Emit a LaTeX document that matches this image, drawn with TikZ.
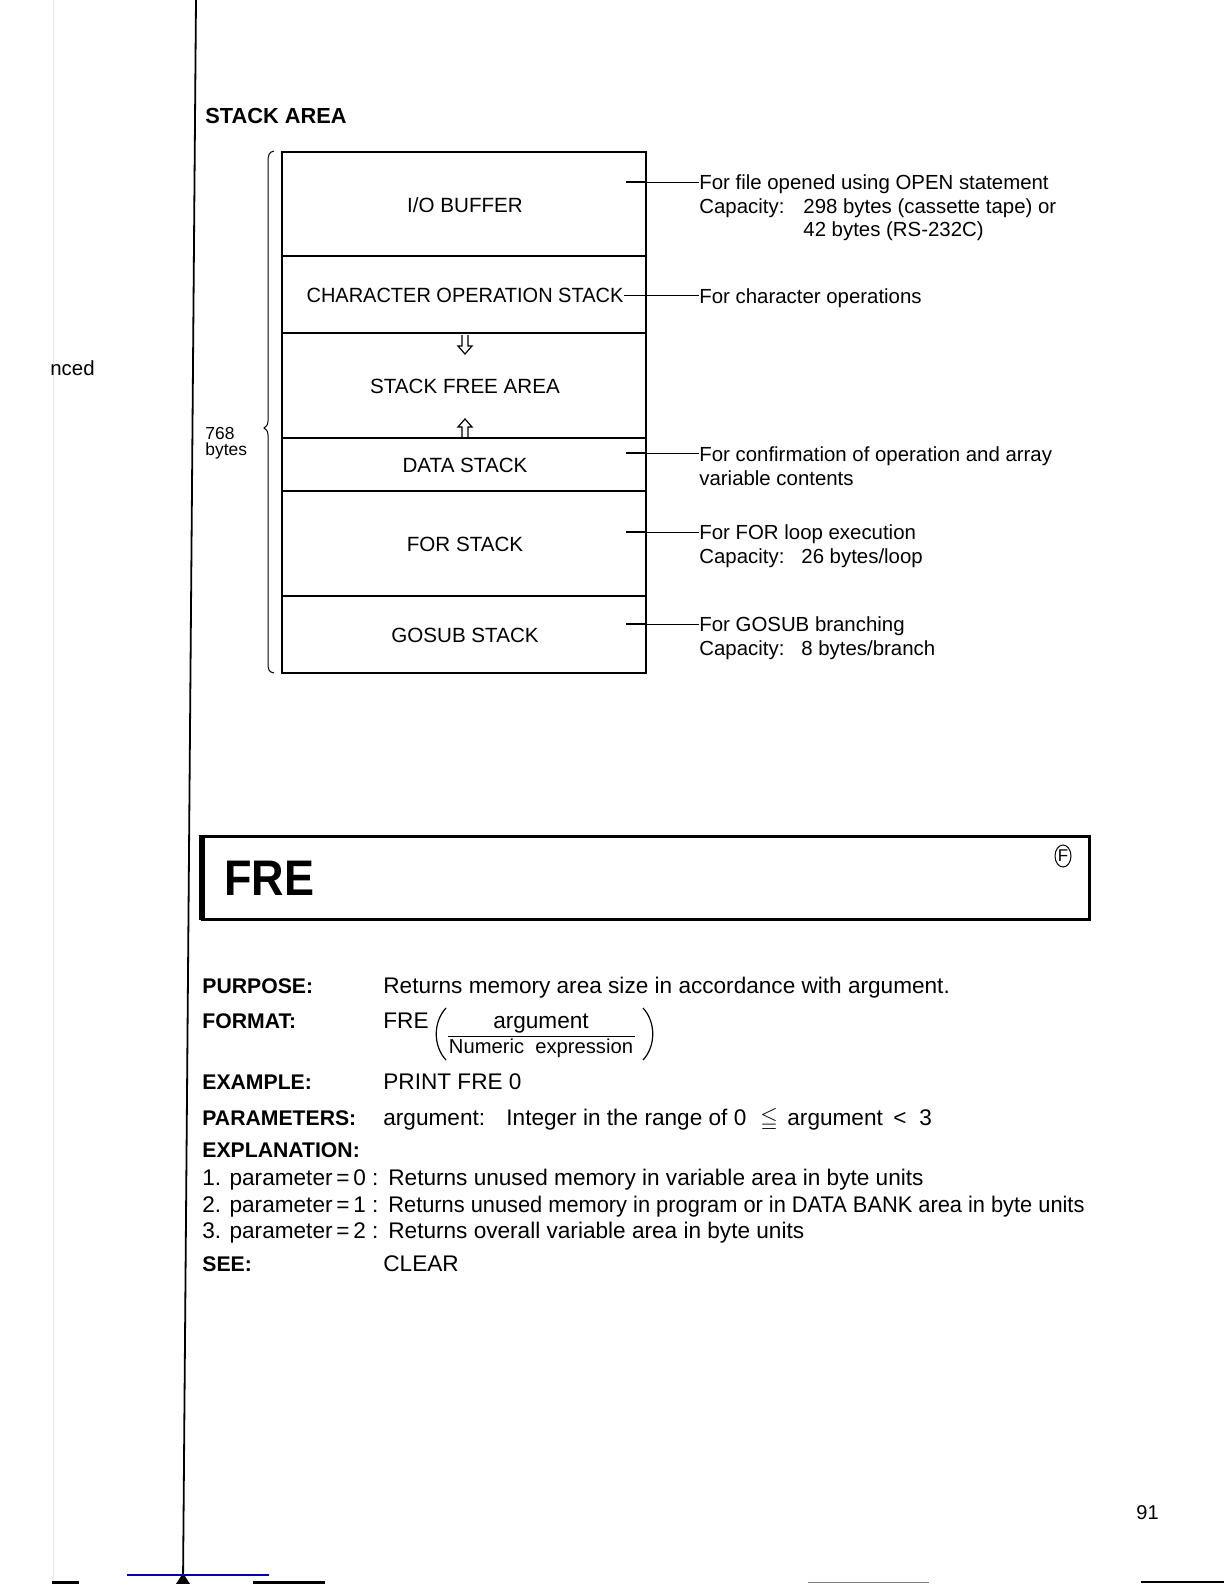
\documentclass[tikz,border=0pt]{standalone}
\usepackage{fontspec}
\setmainfont{Liberation Sans}
\usepackage{amssymb}
\usepackage{graphicx}
\begin{document}
\begin{tikzpicture}[x=0.5pt,y=-0.5pt,
  lab/.style={inner sep=0pt, anchor=base, font=\fontsize{10.3}{12}\selectfont},
  ann/.style={inner sep=0pt, anchor=base west, font=\fontsize{10.2}{12}\selectfont},
  body/.style={inner sep=0pt, anchor=base west, font=\fontsize{11.3}{13}\selectfont},
  head/.style={inner sep=0pt, anchor=base west, font=\fontsize{10.6}{13}\selectfont\bfseries},
  boxline/.style={line width=1pt},
  divline/.style={line width=0.8pt},
  tickline/.style={line width=1pt},
  lead/.style={line width=0.4pt},
  hollowarrow/.style={line width=0.6pt, line join=miter},
]
\useasboundingbox (0,0) rectangle (1224,1584);
\fill[white] (0,0) rectangle (1224,1584);

% page margin lines
\draw[gray!20, line width=0.4pt] (53,0) -- (53,1584);
\draw[line width=0.9pt] (196,0) -- (183,1584);
\node[inner sep=0pt, anchor=base west, font=\fontsize{10.2}{12}\selectfont] (nced) at (50,375) {nced};

% title
\node[inner sep=0pt, anchor=base west, font=\fontsize{10.9}{13}\selectfont\bfseries] (title) at (205,124) {STACK AREA};

% stack box
\draw[boxline] (282,152) rectangle (646,673);
\draw[divline] (282,256) -- (646,256);
\draw[divline] (282,333) -- (646,333);
\draw[divline] (282,438) -- (646,438);
\draw[divline] (282,491) -- (646,491);
\draw[divline] (282,596) -- (646,596);

\node[lab] (io) at (465,212) {I/O BUFFER};
\node[lab] (chr) at (465,302) {\scalebox{0.97}[1]{CHARACTER OPERATION STACK}};
\node[lab] (free) at (465,393) {STACK FREE AREA};
\node[lab] (data) at (465,472) {DATA STACK};
\node[lab] (for) at (465,551) {FOR STACK};
\node[lab] (gosub) at (465,642) {GOSUB STACK};

% growth arrows (hollow double-shaft arrows)
\draw[hollowarrow] (462,335) -- (462,346) -- (458,346) -- (465,354) -- (472,346) -- (468,346) -- (468,335);
\draw[hollowarrow] (462,438) -- (462,427) -- (458,427) -- (465,419) -- (472,427) -- (468,427) -- (468,438);

% brace and size
\draw[line width=0.5pt] (274,151) .. controls (269,152) and (268,155) .. (268,162) -- (268,421)
  .. controls (268,425) and (266,427) .. (264,428) .. controls (266,429) and (268,431) .. (268,435)
  -- (268,663) .. controls (268,670) and (269,672) .. (274,673);
\node[inner sep=0pt, anchor=base west, font=\fontsize{8.7}{10}\selectfont] (n768) at (205,439) {768};
\node[inner sep=0pt, anchor=base west, font=\fontsize{8.7}{10}\selectfont] (nbytes) at (205,455) {bytes};

% annotations
\node[ann] (a1) at (699,189) {For file opened using OPEN statement};
\node[ann] (a1b) at (699,213) {Capacity:};
\node[ann] (a1c) at (803,213) {298 bytes (cassette tape) or};
\node[ann] (a1d) at (803,236) {42 bytes (RS-232C)};
\node[ann] (a2) at (699,303) {For character operations};
\node[ann] (a3) at (699,461) {For confirmation of operation and array};
\node[ann] (a3b) at (699,485) {variable contents};
\node[ann] (a4) at (699,539) {For FOR loop execution};
\node[ann] (a4b) at (699,563) {Capacity:};
\node[ann] (a4c) at (801,563) {26 bytes/loop};
\node[ann] (a5) at (699,631) {For GOSUB branching};
\node[ann] (a5b) at (699,655) {Capacity:};
\node[ann] (a5c) at (801,655) {8 bytes/branch};

\coordinate (t1) at (626,182); \coordinate (r1) at (646,182);
\coordinate (t3) at (626,453); \coordinate (r3) at (646,453);
\coordinate (t4) at (626,532); \coordinate (r4) at (646,532);
\coordinate (t5) at (626,624); \coordinate (r5) at (646,624);
\draw[tickline] (t1) -- (r1); \draw[lead] (r1) -- (r1 -| a1.west);
\draw[lead] (chr.east) -- (chr.east -| a2.west);
\draw[tickline] (t3) -- (r3); \draw[lead] (r3) -- (r3 -| a3.west);
\draw[tickline] (t4) -- (r4); \draw[lead] (r4) -- (r4 -| a4.west);
\draw[tickline] (t5) -- (r5); \draw[lead] (r5) -- (r5 -| a5.west);

% FRE heading box
\draw[line width=1.5pt] (202,836) rectangle (1089,919);
\draw[line width=2.6pt] (202,835) -- (202,920);
\node[inner sep=0pt, anchor=base west, font=\fontsize{25}{25}\selectfont\bfseries] (fretitle) at (224,895) {\scalebox{0.9}[1]{FRE}};
\node[inner sep=0pt, font=\fontsize{8.5}{9}\selectfont] (cf) at (1063,856) {F};
\draw[line width=0.5pt] (cf.center) ellipse [x radius=4pt, y radius=5.5pt];

% body
\node[head] (purpose) at (202,993) {PURPOSE:};
\node[body] (purposetxt) at (383,993) {Returns memory area size in accordance with argument.};
\node[head] (format) at (202,1028) {FORMAT:};
\node[body] (fre) at (383,1028) {FRE};
\node[body, anchor=base] (arg) at (541,1028) {argument};
\node[inner sep=0pt, anchor=base, font=\fontsize{10.1}{12}\selectfont] (numexp) at (541,1053) {Numeric\ \ expression};
\draw[line width=0.5pt] (448,1036) -- (635,1036);
\draw[line width=0.6pt] (446,1008) .. controls (433,1022) and (433,1046) .. (446,1060);
\draw[line width=0.6pt] (643,1008) .. controls (656,1022) and (656,1046) .. (643,1060);

\node[head] (example) at (202,1089) {EXAMPLE:};
\node[body] (exampletxt) at (383,1089) {PRINT FRE 0};

\node[head] (params) at (202,1125) {PARAMETERS:};
\node[body] (p1) at (383,1125) {argument:};
\node[body] (p2) at (506,1125) {Integer in the range of 0};
\node[body] (p3) at (760,1125) {$\leqq$};
\node[body] (p4) at (787,1125) {argument};
\node[body] (p5) at (893,1125) {<};
\node[body] (p6) at (919,1125) {3};

\node[head] (expl) at (202,1157) {EXPLANATION:};
\node[body] (e1) at (202,1185) {1. parameter\,=\,0 :};
\node[body] (e1t) at (388,1185) {Returns unused memory in variable area in byte units};
\node[body] (e2) at (202,1212) {2. parameter\,=\,1 :};
\node[body] (e2t) at (388,1212) {\scalebox{0.965}[1]{Returns unused memory in program or in DATA BANK area in byte units}};
\node[body] (e3) at (202,1238) {3. parameter\,=\,2 :};
\node[body] (e3t) at (388,1238) {Returns overall variable area in byte units};

\node[head] (see) at (202,1271) {SEE:};
\node[body] (seetxt) at (383,1271) {CLEAR};

% page number
\node[inner sep=0pt, anchor=base west, font=\fontsize{10}{12}\selectfont] (pg) at (1136,1519) {91};

% bottom edge marks
\fill (176,1584) -- (183,1573) -- (190,1584) -- cycle;
\draw[blue!70!black, line width=0.8pt] (127,1575) -- (269,1575);
\draw[line width=1.5pt] (52,1582) -- (79,1582);
\draw[line width=1.5pt] (253,1582) -- (325,1582);
\draw[gray, line width=0.5pt] (808,1582) -- (929,1582);
\draw[line width=0.8pt] (1141,1582) -- (1520,1582);
\end{tikzpicture}
\end{document}
